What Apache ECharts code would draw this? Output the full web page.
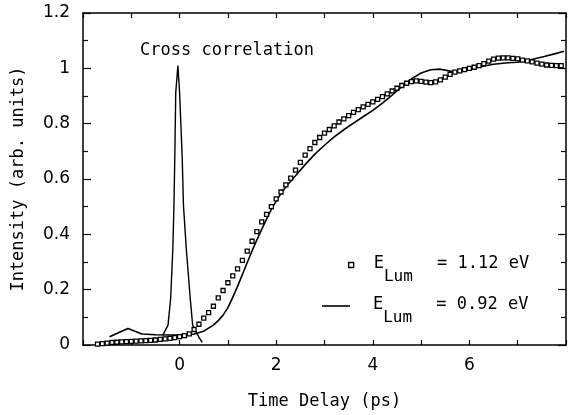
<!DOCTYPE html>
<html>
<head>
<meta charset="utf-8">
<script src="https://cdn.jsdelivr.net/npm/echarts@6/dist/echarts.min.js"></script>
<style>
html,body{margin:0;padding:0;background:#fff;}
#c{width:569px;height:415px;}
</style>
</head>
<body>
<div id="c"></div>
<script>
// ---- data ----
const dotX = [-1.7,-1.6,-1.5,-1.4,-1.3,-1.2,-1.1,-1.0,-0.9,-0.8,-0.7,-0.6,-0.5,-0.4,-0.3,-0.2,-0.1,0.0,0.1,0.2,
  0.3,0.4,0.5,0.6,0.7,0.8,0.9,1.0,1.1,1.2,1.3,1.4,1.5,1.6,1.7,1.8,1.9,2.0,2.1,2.2,2.3,2.4,2.5,2.6,2.7,2.8,2.9,
  3.0,3.1,3.2,3.3,3.4,3.5,3.6,3.7,3.8,3.9,4.0,4.1,4.2,4.3,4.4,4.5,4.6,4.7,4.8,4.9,5.0,5.1,5.2,5.3,5.4,5.5,5.6,
  5.7,5.8,5.9,6.0,6.1,6.2,6.3,6.4,6.5,6.6,6.7,6.8,6.9,7.0,7.1,7.2,7.3,7.4,7.5,7.6,7.7,7.8,7.9];
const dotY = [0.003,0.005,0.007,0.009,0.010,0.011,0.012,0.013,0.014,0.015,0.016,0.017,0.018,0.020,0.022,0.024,0.027,0.030,0.034,0.040,
  0.056,0.075,0.097,0.117,0.140,0.170,0.197,0.225,0.250,0.275,0.306,0.339,0.375,0.410,0.445,0.472,0.500,0.528,0.553,0.579,0.603,0.632,0.660,0.686,0.710,0.732,0.750,
  0.766,0.779,0.792,0.806,0.817,0.829,0.841,0.851,0.861,0.870,0.879,0.888,0.898,0.908,0.918,0.928,0.938,0.946,0.952,0.955,0.953,0.950,0.948,0.951,0.958,0.968,0.978,
  0.986,0.991,0.995,1.000,1.004,1.010,1.017,1.026,1.033,1.037,1.038,1.038,1.036,1.034,1.030,1.027,1.023,1.019,1.015,1.012,1.011,1.010,1.010];

const lineX = [-1.45,-1.07,-0.78,-0.5,-0.2,0.1,0.3,0.5,0.7,0.8,0.9,1.0,1.1,1.2,1.3,1.4,1.5,1.6,1.7,1.8,1.9,2.0,2.1,2.2,
  2.4,2.6,2.8,3.0,3.2,3.4,3.6,3.8,4.0,4.2,4.4,4.6,4.8,5.0,5.2,5.4,5.6,5.8,6.0,6.2,6.5,6.8,7.0,7.27,7.55,7.8,7.96];
const lineY = [0.030,0.060,0.040,0.037,0.036,0.036,0.040,0.050,0.072,0.088,0.108,0.135,0.172,0.212,0.255,0.298,0.340,0.380,0.418,0.455,0.490,0.520,0.548,0.572,
  0.612,0.652,0.690,0.722,0.752,0.778,0.802,0.825,0.848,0.874,0.903,0.934,0.962,0.983,0.995,0.997,0.990,0.988,0.996,1.005,1.015,1.020,1.022,1.031,1.043,1.054,1.062];

const xcX = [-0.35,-0.24,-0.185,-0.14,-0.117,-0.10,-0.08,-0.035,0.0,0.055,0.08,0.138,0.22,0.27,0.41,0.47];
const xcY = [0.035,0.072,0.169,0.349,0.504,0.672,0.912,1.010,0.912,0.672,0.504,0.349,0.169,0.072,0.025,0.010];

const xTickLabels = ['0','2','4','6'];
const nameHi = 'E_Lum = 1.12 eV';
const nameLo = 'E_Lum = 0.92 eV';

const pair = (xs, ys) => xs.map((x, i) => [x, ys[i]]);
const F = 'DejaVu Sans Mono';
const FT = 'DejaVu Sans';

function makeRich(padLeft) {
  return {
    p: {fontFamily: F, fontSize: 17, color: '#000', verticalAlign: 'top', lineHeight: 20, padding: [0, 0, 0, padLeft]},
    s: {fontFamily: F, fontSize: 16, color: '#000', verticalAlign: 'top', lineHeight: 16, padding: [14, 14, 0, 0]},
    e: {fontFamily: F, fontSize: 17, color: '#000', verticalAlign: 'top', lineHeight: 20}
  };
}
const fmt = (n) => {
  const rest = n.split('_')[1].replace('Lum', '');
  return '{p|E}{s|Lum}{e|' + rest + '}';
};

const axisLineStyle = {show: true, onZero: false, lineStyle: {color: '#000', width: 1.5}};
const tickStyle = {color: '#000', width: 1.2};

const chart = echarts.init(document.getElementById('c'));
chart.setOption({
  animation: false,
  backgroundColor: '#fff',
  title: {
    text: 'Cross correlation', left: 140, top: 42, padding: 0,
    textStyle: {fontFamily: F, fontSize: 17, fontWeight: 'normal', color: '#000'}
  },
  grid: {left: 83, right: 2, top: 13, bottom: 68},
  legend: [
    {data: [{name: nameHi, icon: 'rect'}], left: 348, top: 255, padding: 0, orient: 'vertical',
     itemWidth: 5, itemHeight: 5,
     itemStyle: {color: '#fff', borderColor: '#000', borderWidth: 1.3},
     formatter: fmt, textStyle: {rich: makeRich(15)}},
    {data: [{name: nameLo, icon: 'rect'}], left: 322, top: 296, padding: 0, orient: 'vertical',
     itemWidth: 28, itemHeight: 1.6,
     itemStyle: {color: '#000', borderWidth: 0},
     formatter: fmt, textStyle: {rich: makeRich(18)}}
  ],
  xAxis: [
    {
      type: 'value', min: -2, max: 8, interval: 1, position: 'bottom',
      name: 'Time Delay (ps)', nameLocation: 'middle', nameGap: 48,
      nameTextStyle: {fontFamily: F, fontSize: 17, color: '#000'},
      axisLine: axisLineStyle, splitLine: {show: false},
      axisTick: {show: true, inside: true, length: 5, lineStyle: tickStyle},
      axisLabel: {margin: 12, fontFamily: FT, fontSize: 17, color: '#000',
        formatter: (v) => xTickLabels.indexOf(String(v)) >= 0 ? String(v) : ''}
    },
    {
      type: 'value', min: -2, max: 8, interval: 1, position: 'top',
      axisLine: axisLineStyle, splitLine: {show: false},
      axisTick: {show: true, inside: true, length: 5, lineStyle: tickStyle},
      axisLabel: {show: false}
    }
  ],
  yAxis: [
    {
      type: 'value', min: 0, max: 1.2, interval: 0.2, position: 'left',
      name: 'Intensity (arb. units)', nameLocation: 'middle', nameGap: 56,
      nameTextStyle: {fontFamily: F, fontSize: 17, color: '#000'},
      axisLine: axisLineStyle, splitLine: {show: false},
      axisTick: {show: true, inside: true, length: 8, lineStyle: tickStyle},
      minorTick: {show: true, splitNumber: 2, length: 5, lineStyle: tickStyle},
      axisLabel: {margin: 13, fontFamily: FT, fontSize: 17, color: '#000'}
    },
    {
      type: 'value', min: 0, max: 1.2, interval: 0.2, position: 'right',
      axisLine: axisLineStyle, splitLine: {show: false},
      axisTick: {show: true, inside: true, length: 8, lineStyle: tickStyle},
      minorTick: {show: true, splitNumber: 2, length: 5, lineStyle: tickStyle},
      axisLabel: {show: false}
    }
  ],
  series: [
    {
      name: nameHi, type: 'scatter', symbol: 'rect', symbolSize: 4,
      itemStyle: {color: '#fff', borderColor: '#000', borderWidth: 1.3, opacity: 1},
      data: pair(dotX, dotY), z: 3
    },
    {
      name: nameLo, type: 'line', showSymbol: false, symbol: 'none',
      lineStyle: {color: '#000', width: 1.6}, itemStyle: {color: '#000'},
      data: pair(lineX, lineY), z: 2
    },
    {
      name: 'Cross correlation', type: 'line', showSymbol: false, symbol: 'none',
      lineStyle: {color: '#000', width: 1.4},
      data: pair(xcX, xcY), z: 2
    }
  ]
});
</script>
</body>
</html>
